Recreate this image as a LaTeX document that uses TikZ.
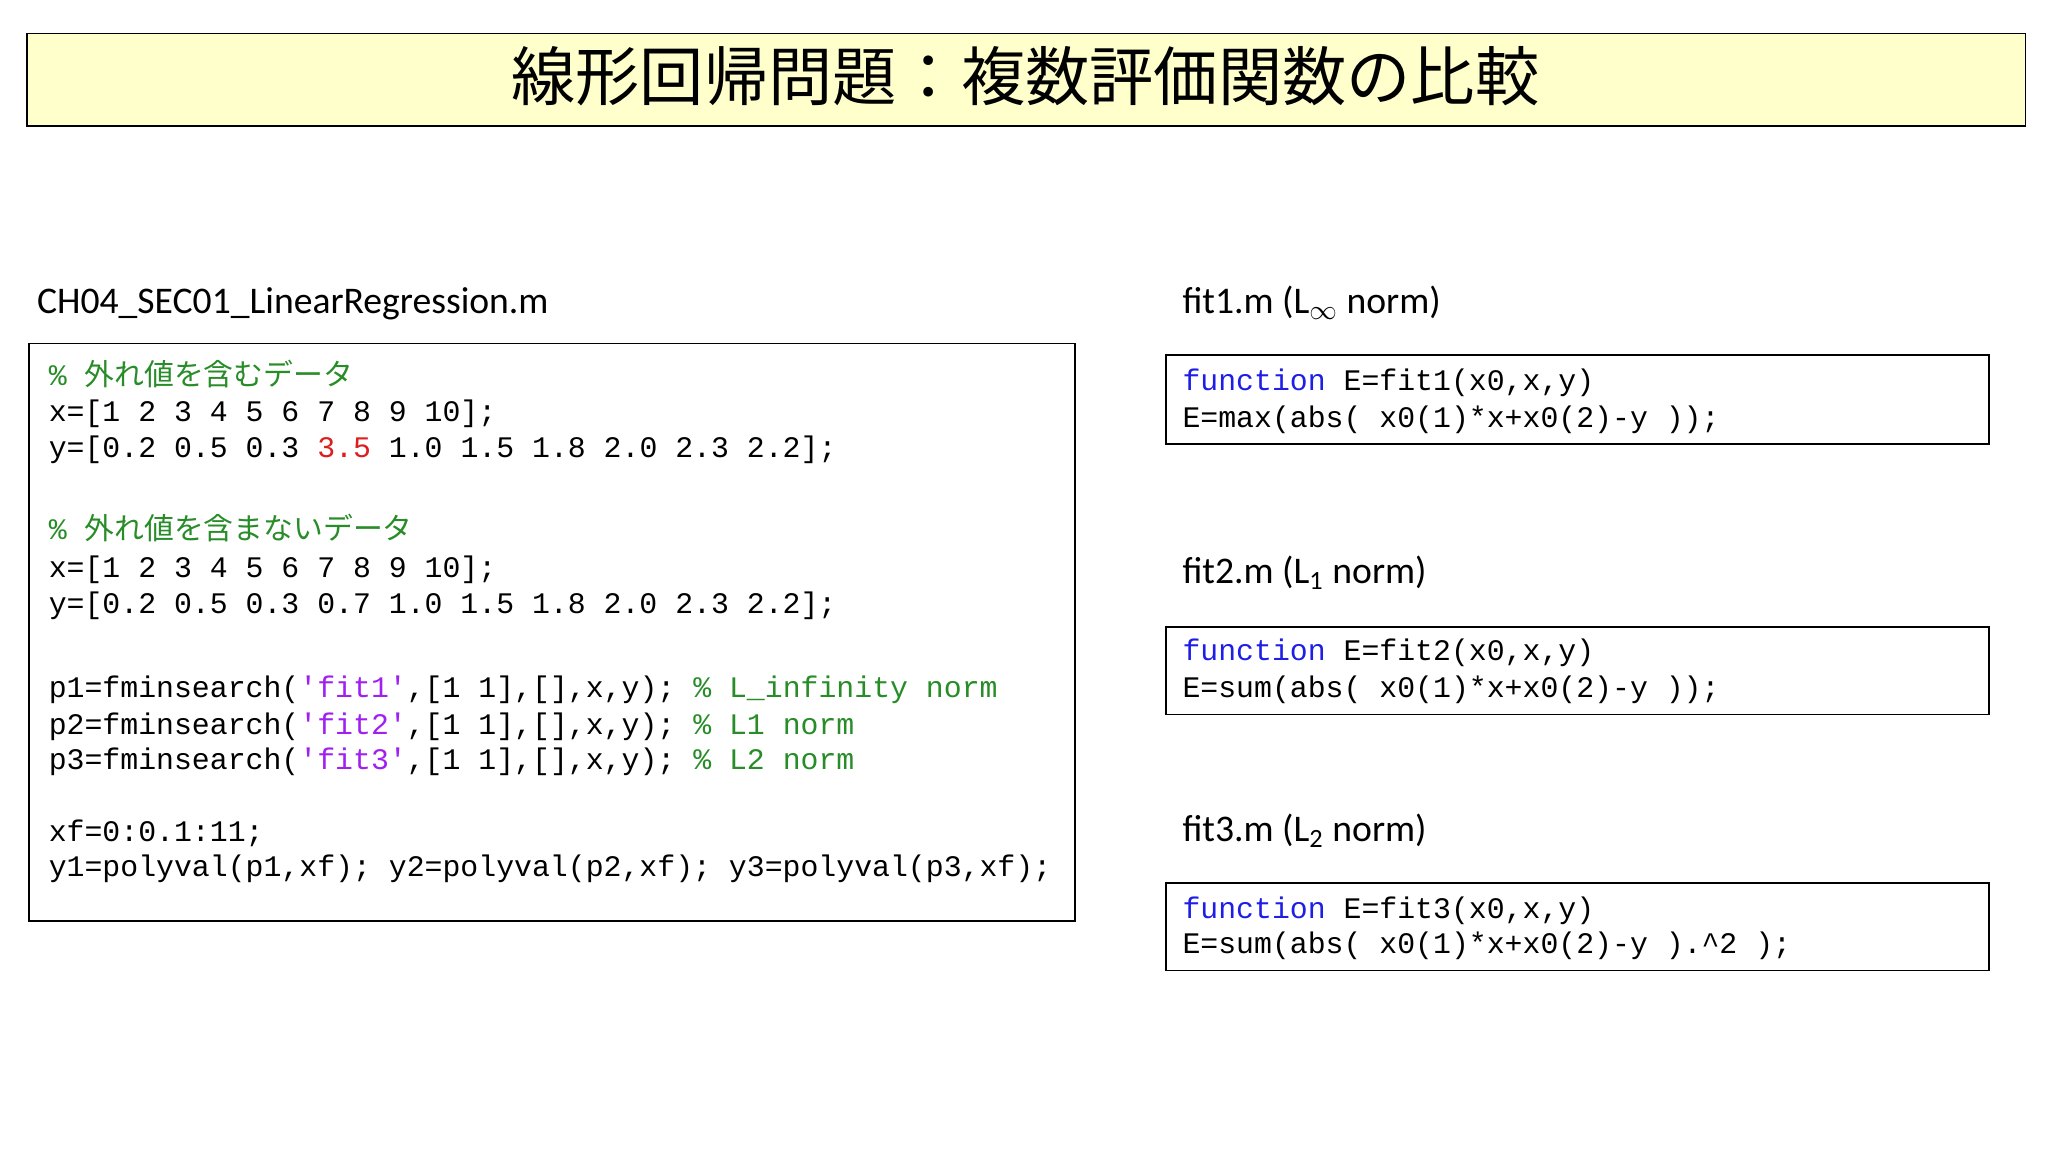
\documentclass[tikz,border=0pt]{standalone}
\usepackage{fontspec}
\setmainfont{Carlito}
\setmonofont{Liberation Mono}
\newfontfamily\cjk{Noto Sans CJK JP}
\definecolor{titlebg}{RGB}{255,255,204}
\definecolor{kw}{RGB}{30,30,230}
\definecolor{cm}{RGB}{40,140,40}
\definecolor{st}{RGB}{160,32,240}
\definecolor{rd}{RGB}{220,30,30}
\tikzset{
 codeline/.style={anchor=base west,inner sep=0pt,font=\ttfamily\fontsize{13}{15}\selectfont},
 lbl/.style={anchor=base west,inner sep=0pt,font=\fontsize{16.4}{19}\selectfont},
 box/.style={draw,line width=0.8pt},
}
\begin{document}
\begin{tikzpicture}[x=0.02cm,y=-0.02cm]
\useasboundingbox (0,0) rectangle (1568,882);
\node[box,fill=titlebg,minimum width=1530*0.02cm,minimum height=71*0.02cm,anchor=north west] (title) at (20,25) {};
\node[font=\cjk\fontsize{28}{32}\selectfont] (tt) at (785,58) {線形回帰問題：複数評価関数の比較};

\node[lbl] (l0) at (28,240) {CH04\_SEC01\_LinearRegression.m};
\draw[box] (22,263) rectangle (823,705);
\node[codeline] (c1) at (37,295) {\textcolor{cm}{\% {\cjk 外れ値を含むデータ}}};
\node[codeline] (c2) at (37,323) {x=[1 2 3 4 5 6 7 8 9 10];};
\node[codeline] (c3) at (37,350) {y=[0.2 0.5 0.3 \textcolor{rd}{3.5} 1.0 1.5 1.8 2.0 2.3 2.2];};
\node[codeline] (c4) at (37,413) {\textcolor{cm}{\% {\cjk 外れ値を含まないデータ}}};
\node[codeline] (c5) at (37,442) {x=[1 2 3 4 5 6 7 8 9 10];};
\node[codeline] (c6) at (37,470) {y=[0.2 0.5 0.3 0.7 1.0 1.5 1.8 2.0 2.3 2.2];};
\node[codeline] (c7) at (37,534) {p1=fminsearch(\textcolor{st}{'fit1'},[1 1],[],x,y); \textcolor{cm}{\% L\_infinity norm}};
\node[codeline] (c8) at (37,562) {p2=fminsearch(\textcolor{st}{'fit2'},[1 1],[],x,y); \textcolor{cm}{\% L1 norm}};
\node[codeline] (c9) at (37,589) {p3=fminsearch(\textcolor{st}{'fit3'},[1 1],[],x,y); \textcolor{cm}{\% L2 norm}};
\node[codeline] (c10) at (37,644) {xf=0:0.1:11;};
\node[codeline] (c11) at (37,671) {y1=polyval(p1,xf); y2=polyval(p2,xf); y3=polyval(p3,xf);};

\node[lbl] (l1) at (905,240) {fit1.m (L$_\infty$ norm)};
\draw[box] (893,272) rectangle (1523,340);
\node[codeline] (f1a) at (905,299) {\textcolor{kw}{function} E=fit1(x0,x,y)};
\node[codeline] (f1b) at (905,327) {E=max(abs( x0(1)*x+x0(2)-y ));};

\node[lbl] (l2) at (905,447) {fit2.m (L\textsubscript{1} norm)};
\draw[box] (893,480) rectangle (1523,547);
\node[codeline] (f2a) at (905,506) {\textcolor{kw}{function} E=fit2(x0,x,y)};
\node[codeline] (f2b) at (905,534) {E=sum(abs( x0(1)*x+x0(2)-y ));};

\node[lbl] (l3) at (905,644) {fit3.m (L\textsubscript{2} norm)};
\draw[box] (893,676) rectangle (1523,743);
\node[codeline] (f3a) at (905,703) {\textcolor{kw}{function} E=fit3(x0,x,y)};
\node[codeline] (f3b) at (905,730) {E=sum(abs( x0(1)*x+x0(2)-y ).\^{}2 );};
\end{tikzpicture}
\end{document}
